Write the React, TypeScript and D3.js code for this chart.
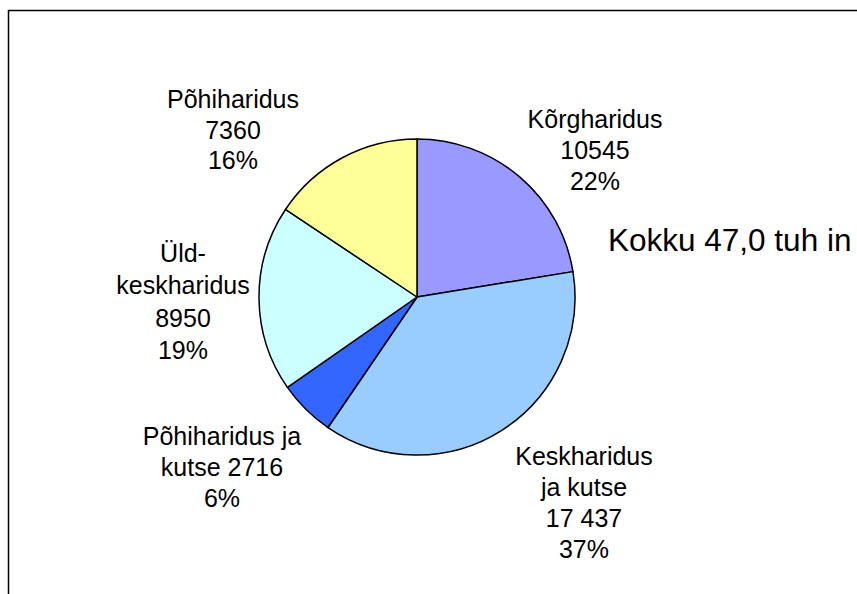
import React from "react";
import * as d3 from "d3";

const categories = ["Kõrgharidus", "Keskharidus ja kutse", "Põhiharidus ja kutse", "Üld-keskharidus", "Põhiharidus"];
const values = [10545, 17437, 2716, 8950, 7360];
const colors = ["#9999FF", "#99CCFF", "#3366FF", "#CCFFFF", "#FFFF99"];
const labelLines = [
  ["Kõrgharidus", "10545", "22%"],
  ["Keskharidus", "ja kutse", "17 437", "37%"],
  ["Põhiharidus ja", "kutse 2716", "6%"],
  ["Üld-", "keskharidus", "8950", "19%"],
  ["Põhiharidus", "7360", "16%"],
];
const totalLabel = "Kokku 47,0 tuh in";

const W = 857;
const H = 594;
const cx = 417;
const cy = 297;
const R = 158;

// label anchor positions (center x, first baseline y, line spacing)
const labelPos = [
  { x: 595, y: 128, dy: 31 },
  { x: 584, y: 465, dy: 31 },
  { x: 222, y: 445, dy: 31 },
  { x: 183, y: 262, dy: 32.3 },
  { x: 233, y: 108, dy: 30.5 },
];

export default function App() {
  const pie = d3.pie<number>().sort(null).value((d) => d).startAngle(0).endAngle(2 * Math.PI);
  const arcs = pie(values);
  const arcGen = d3.arc<d3.PieArcDatum<number>>().innerRadius(0).outerRadius(R);
  const font = "'Liberation Sans', Arial, sans-serif";
  return (
    <svg
      width={W}
      height={H}
      style={{ position: "absolute", left: 0, top: 0, background: "#fff" }}
      fontFamily={font}
    >
      <rect x={0} y={0} width={W} height={H} fill="#fff" />
      <line x1={8.5} y1={10} x2={8.5} y2={H} stroke="#000" strokeWidth={1.5} />
      <line x1={8} y1={10.5} x2={W} y2={10.5} stroke="#000" strokeWidth={1.5} />
      <g transform={`translate(${cx},${cy})`}>
        {arcs.map((a, i) => (
          <path key={categories[i]} d={arcGen(a) || ""} fill={colors[i]} stroke="#000" strokeWidth={1.5} strokeLinejoin="round" />
        ))}
      </g>
      {labelLines.map((lines, i) => (
        <text key={i} textAnchor="middle" fontSize={25} fill="#000">
          {lines.map((l, j) => (
            <tspan key={j} x={labelPos[i].x} y={labelPos[i].y + j * labelPos[i].dy}>
              {l}
            </tspan>
          ))}
        </text>
      ))}
      <text x={608} y={251} fontSize={31.5} fill="#000">
        {totalLabel}
      </text>
    </svg>
  );
}
